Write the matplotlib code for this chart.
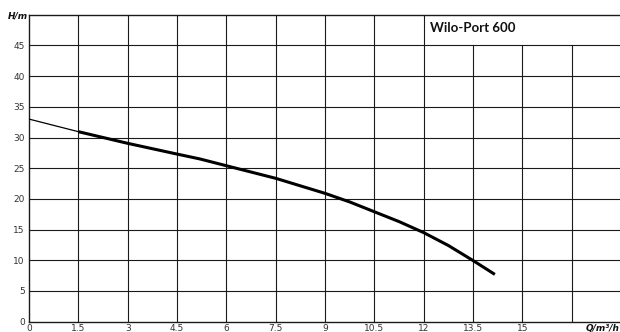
import matplotlib
matplotlib.use("Agg")
import matplotlib.pyplot as plt
import numpy as np

# Data
q_values = [0.0, 1.5, 3.0, 4.5, 5.2, 6.0, 7.5, 9.0, 9.75, 10.5, 11.25, 12.0, 12.75, 13.5, 14.16]
h_values = [33.0, 30.95, 29.05, 27.3, 26.5, 25.4, 23.35, 20.9, 19.5, 17.9, 16.3, 14.5, 12.4, 9.95, 7.7]
x_ticks = [0, 1.5, 3, 4.5, 6, 7.5, 9, 10.5, 12, 13.5, 15]
x_tick_labels = ["0", "1.5", "3", "4.5", "6", "7.5", "9", "10.5", "12", "13.5", "15"]
y_ticks = [0, 5, 10, 15, 20, 25, 30, 35, 40, 45]
title = "Wilo-Port 600"

fig = plt.figure(figsize=(6.2, 3.32), dpi=100)
ax = fig.add_axes([29/620, 10.3/332, 1 - 29/620, 307/332])
xmax = (620 - 29) / 32.9
ax.set_xlim(0, xmax)
ax.set_ylim(0, 50)

gc = "#1a1a1a"
# horizontal grid lines
for y in y_ticks[1:]:
    ax.plot([0, xmax], [y, y], color=gc, lw=0.8, zorder=1)
# vertical grid lines
for x in [1.5, 3, 4.5, 6, 7.5, 9, 10.5, 12]:
    ax.plot([x, x], [0, 50], color=gc, lw=0.8, zorder=1)
for x in [13.5, 15, 16.5]:
    ax.plot([x, x], [0, 45], color=gc, lw=0.8, zorder=1)

# curve: thin start, thick afterwards
ax.plot(q_values[:2], h_values[:2], color="black", lw=0.9, zorder=3, solid_capstyle="butt")
ax.plot(q_values[1:], h_values[1:], color="black", lw=2.2, zorder=3,
        solid_capstyle="butt", solid_joinstyle="round")

ax.spines["right"].set_visible(False)
for s in ["left", "top", "bottom"]:
    ax.spines[s].set_color(gc)
    ax.spines[s].set_linewidth(1.0)

ax.set_xticks(x_ticks)
ax.set_xticklabels(x_tick_labels)
ax.set_yticks(y_ticks)
ax.tick_params(axis="both", length=0, labelsize=6.5, colors="#333333")
ax.tick_params(axis="x", pad=1.5)
ax.tick_params(axis="y", pad=3)

ax.text(12.2, 47.9, title, fontsize=9.5, fontweight="bold", family="Lato",
        va="center", ha="left", color="#111111")

fig.text(8/620, 1 - 16/332, "H/m", fontsize=6.5, fontweight="bold", style="italic",
         va="center", ha="left", color="#111111")
fig.text(1.0, 1 - 328/332, "Q/m³/h", fontsize=6.5, fontweight="bold", style="italic",
         va="center", ha="right", color="#111111")

fig.savefig("out.png", dpi=100)
